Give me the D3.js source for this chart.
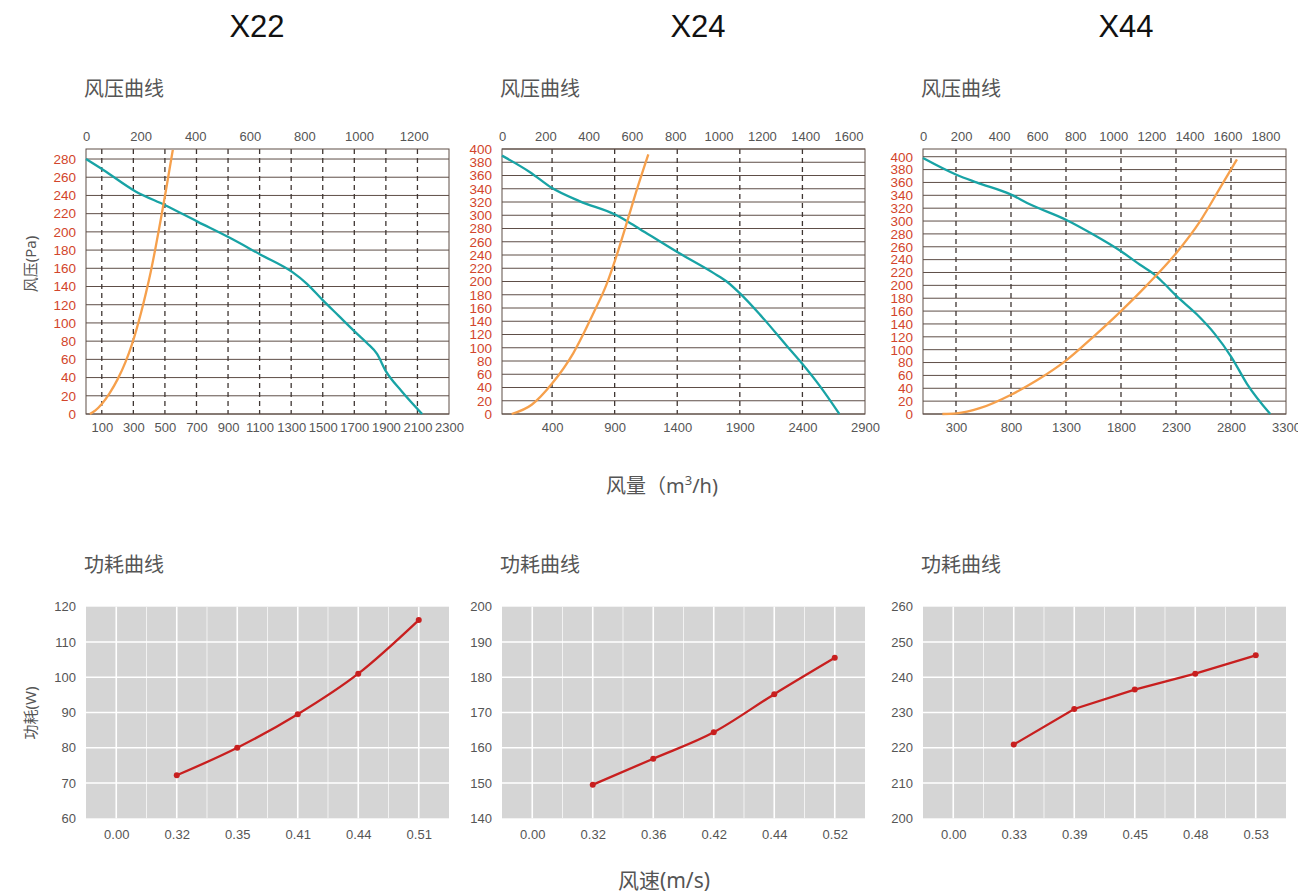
<!DOCTYPE html>
<html>
<head>
<meta charset="utf-8">
<script src="https://cdn.jsdelivr.net/npm/d3@7"></script>
<style>
  body { margin: 0; background: #fff; }
  svg text { font-family: "Liberation Sans", Arial, "Noto Sans CJK SC", sans-serif; }
  svg text.cjk { font-family: "Noto Sans", "Noto Sans CJK SC", sans-serif; }
</style>
</head>
<body>
<svg id="chart" width="1298" height="894"></svg>
<script>
/* DATA */
const models = ["X22", "X24", "X44"];

// fan pressure curves: flow (m3/h) vs pressure (Pa)
const x22FanFlow = [0, 110, 309, 505, 709, 905, 1106, 1306, 1400, 1500, 1600, 1700, 1780, 1844, 1900, 2000, 2130];
const x22FanPa   = [280, 268, 245, 229, 211, 194, 175, 156, 143, 125, 108, 91, 78, 66, 47, 25, 0];
const x22SysFlow = [25, 60, 100, 150, 200, 250, 290, 320, 350, 380, 410, 440, 470, 508, 550];
const x22SysPa   = [0, 4, 11, 23, 38, 57, 76, 93, 112, 133, 156, 182, 210, 247, 290];

const x24FanFlow = [0, 224, 400, 623, 903, 1000, 1103, 1404, 1688, 1795, 1901, 2061, 2274, 2402, 2540, 2695];
const x24FanPa   = [390, 365, 341, 321, 301, 291, 279, 244, 213, 200, 182, 150, 103, 75, 42, 0];
const x24SysFlow = [77, 237, 400, 570, 730, 836, 903, 996, 1076, 1169];
const x24SysPa   = [0, 14, 46, 92, 152, 196, 232, 288, 338, 392];

const x44FanFlow = [0, 304, 486, 801, 971, 1299, 1548, 1800, 1973, 2124, 2185, 2301, 2489, 2650, 2802, 2945, 3157];
const x44FanPa   = [398, 372, 360, 341, 326, 302, 279, 253, 232, 214, 204, 184, 155, 125, 89, 47, 0];
const x44SysFlow = [176, 304, 516, 801, 1032, 1299, 1548, 1800, 2034, 2301, 2520, 2702, 2854];
const x44SysPa   = [0, 1, 9, 30, 52, 83, 120, 160, 200, 250, 300, 352, 396];

// axis limits and tick labels of the pressure charts
const flowMax = [2300, 2900, 3300];
const paMax = [291, 400, 412];
const paTickMax = [280, 400, 400];
const x22FlowTicks = [100, 300, 500, 700, 900, 1100, 1300, 1500, 1700, 1900, 2100, 2300];
const x24FlowTicks = [400, 900, 1400, 1900, 2400, 2900];
const x44FlowTicks = [300, 800, 1300, 1800, 2300, 2800, 3300];
const cfmPerM3h = 0.578; // top axis (CFM)

// power curves: air speed (m/s) vs power (W)
const x22SpeedTicks = ["0.00", "0.32", "0.35", "0.41", "0.44", "0.51"];
const x22Power = [72.2, 80, 89.5, 101, 116.2];
const x24SpeedTicks = ["0.00", "0.32", "0.36", "0.42", "0.44", "0.52"];
const x24Power = [149.5, 156.9, 164.4, 175.2, 185.5];
const x44SpeedTicks = ["0.00", "0.33", "0.39", "0.45", "0.48", "0.53"];
const x44Power = [220.9, 231, 236.5, 241, 246.2];
const powerDomains = [[60, 120], [140, 200], [200, 260]];

/* LAYOUT */
const lefts = [86, 502, 923];
const plotW = 363;
const topY0 = 149, topY1 = 414;
const botY0 = 606.7, botY1 = 818.3;
const titleX = [257, 698, 1126];

const svg = d3.select("#chart");

const pressureSets = [
  { fan: d3.zip(x22FanFlow, x22FanPa), sys: d3.zip(x22SysFlow, x22SysPa), ticks: x22FlowTicks },
  { fan: d3.zip(x24FanFlow, x24FanPa), sys: d3.zip(x24SysFlow, x24SysPa), ticks: x24FlowTicks },
  { fan: d3.zip(x44FanFlow, x44FanPa), sys: d3.zip(x44SysFlow, x44SysPa), ticks: x44FlowTicks }
];
const powerSets = [
  { cats: x22SpeedTicks, vals: x22Power, curve: d3.curveMonotoneX },
  { cats: x24SpeedTicks, vals: x24Power, curve: d3.curveMonotoneX },
  { cats: x44SpeedTicks, vals: x44Power, curve: d3.curveLinear }
];

function styleAxis(g, color, size) {
  g.select(".domain").remove();
  g.selectAll("text").attr("fill", color).style("font-size", size + "px");
}

function drawPressure(i) {
  const set = pressureSets[i];
  const left = lefts[i];
  const g = svg.append("g");

  const x = d3.scaleLinear().domain([0, flowMax[i]]).range([left, left + plotW]);
  const y = d3.scaleLinear().domain([0, paMax[i]]).range([topY1, topY0]);
  const xTop = d3.scaleLinear().domain([0, flowMax[i] * cfmPerM3h]).range([left, left + plotW]);
  const paTicks = d3.range(0, paTickMax[i] + 1, 20);

  // horizontal grid
  g.selectAll("line.h").data(paTicks).join("line")
    .attr("class", "h")
    .attr("x1", left).attr("x2", left + plotW)
    .attr("y1", d => y(d)).attr("y2", d => y(d))
    .attr("stroke", "#5e4e47").attr("stroke-width", 1);

  // dashed vertical lines
  g.selectAll("line.v").data(set.ticks.filter(d => d < flowMax[i])).join("line")
    .attr("class", "v")
    .attr("x1", d => x(d)).attr("x2", d => x(d))
    .attr("y1", topY0).attr("y2", topY1)
    .attr("stroke", "#3f3633").attr("stroke-width", 1.3)
    .attr("stroke-dasharray", "5,4");

  // frame
  g.append("rect")
    .attr("x", left).attr("y", topY0)
    .attr("width", plotW).attr("height", topY1 - topY0)
    .attr("fill", "none").attr("stroke", "#5e4e47").attr("stroke-width", 1);

  const line = d3.line().x(d => x(d[0])).y(d => y(d[1])).curve(d3.curveMonotoneX);
  g.append("path").datum(set.fan)
    .attr("d", line).attr("fill", "none")
    .attr("stroke", "#18a3a5").attr("stroke-width", 2.3);
  g.append("path").datum(set.sys)
    .attr("d", line).attr("fill", "none")
    .attr("stroke", "#f6a04c").attr("stroke-width", 2.3);

  // axes
  g.append("g").attr("transform", `translate(0,${topY0})`)
    .call(d3.axisTop(xTop).tickValues(d3.range(0, xTop.domain()[1], 200)).tickSize(0).tickPadding(8).tickFormat(d3.format("d")))
    .call(a => styleAxis(a, "#555", 13));
  g.append("g").attr("transform", `translate(0,${topY1})`)
    .call(d3.axisBottom(x).tickValues(set.ticks).tickSize(0).tickPadding(9).tickFormat(d3.format("d")))
    .call(a => styleAxis(a, "#555", 13));
  g.append("g").attr("transform", `translate(${left},0)`)
    .call(d3.axisLeft(y).tickValues(paTicks).tickSize(0).tickPadding(10))
    .call(a => styleAxis(a, "#d2452b", 13.5));

  g.append("text").attr("class", "cjk")
    .attr("x", left - 2).attr("y", 96)
    .attr("fill", "#555").style("font-size", "20px")
    .text("风压曲线");
}

function drawPower(i) {
  const set = powerSets[i];
  const left = lefts[i];
  const g = svg.append("g");

  const x = d3.scalePoint().domain(set.cats).range([left, left + plotW]).padding(0.5);
  const y = d3.scaleLinear().domain(powerDomains[i]).range([botY1, botY0]);
  const yTicks = d3.range(powerDomains[i][0], powerDomains[i][1] + 1, 10);

  g.append("rect")
    .attr("x", left).attr("y", botY0)
    .attr("width", plotW).attr("height", botY1 - botY0)
    .attr("fill", "#d5d5d5");

  const mids = d3.pairs(set.cats).map(([a, b]) => (x(a) + x(b)) / 2);
  g.selectAll("line.minor").data(mids).join("line")
    .attr("class", "minor")
    .attr("x1", d => d).attr("x2", d => d)
    .attr("y1", botY0).attr("y2", botY1)
    .attr("stroke", "#f2f2f2").attr("stroke-width", 1);
  g.selectAll("line.major").data(set.cats).join("line")
    .attr("class", "major")
    .attr("x1", d => x(d)).attr("x2", d => x(d))
    .attr("y1", botY0).attr("y2", botY1)
    .attr("stroke", "#fff").attr("stroke-width", 1.6);
  g.selectAll("line.h").data(yTicks.slice(1, -1)).join("line")
    .attr("class", "h")
    .attr("x1", left).attr("x2", left + plotW)
    .attr("y1", d => y(d)).attr("y2", d => y(d))
    .attr("stroke", "#fff").attr("stroke-width", 1.6);

  const pts = set.vals.map((v, k) => ({ s: set.cats[k + 1], p: v }));
  const line = d3.line().x(d => x(d.s)).y(d => y(d.p)).curve(set.curve);
  g.append("path").datum(pts)
    .attr("d", line).attr("fill", "none")
    .attr("stroke", "#c81f1f").attr("stroke-width", 2.3);
  g.selectAll("circle").data(pts).join("circle")
    .attr("cx", d => x(d.s)).attr("cy", d => y(d.p)).attr("r", 3)
    .attr("fill", "#c81f1f");

  g.append("g").attr("transform", `translate(0,${botY1})`)
    .call(d3.axisBottom(x).tickSize(0).tickPadding(11))
    .call(a => styleAxis(a, "#555", 13));
  g.append("g").attr("transform", `translate(${left},0)`)
    .call(d3.axisLeft(y).tickValues(yTicks).tickSize(0).tickPadding(10))
    .call(a => styleAxis(a, "#555", 13));

  g.append("text").attr("class", "cjk")
    .attr("x", left - 2).attr("y", 572)
    .attr("fill", "#555").style("font-size", "20px")
    .text("功耗曲线");
}

models.forEach((m, i) => {
  svg.append("text")
    .attr("x", titleX[i]).attr("y", 37)
    .attr("text-anchor", "middle")
    .attr("fill", "#111").style("font-size", "31px")
    .text(m);
  drawPressure(i);
  drawPower(i);
});

// shared axis titles
svg.append("text").attr("class", "cjk")
  .attr("transform", "translate(31,264) rotate(-90)")
  .attr("text-anchor", "middle").attr("dy", "0.35em")
  .attr("fill", "#555").style("font-size", "15px")
  .text("风压(Pa)");
svg.append("text").attr("class", "cjk")
  .attr("transform", "translate(31,713) rotate(-90)")
  .attr("text-anchor", "middle").attr("dy", "0.35em")
  .attr("fill", "#555").style("font-size", "15px")
  .text("功耗(W)");

const flowTitle = svg.append("text").attr("class", "cjk")
  .attr("x", 662).attr("y", 493)
  .attr("text-anchor", "middle")
  .attr("fill", "#555").style("font-size", "20px");
flowTitle.append("tspan").text("风量（m");
flowTitle.append("tspan").attr("dy", -8).style("font-size", "13px").text("3");
flowTitle.append("tspan").attr("dy", 8).text("/h)");

svg.append("text").attr("class", "cjk")
  .attr("x", 664).attr("y", 888)
  .attr("text-anchor", "middle")
  .attr("fill", "#555").style("font-size", "21px")
  .text("风速(m/s)");
</script>
</body>
</html>
